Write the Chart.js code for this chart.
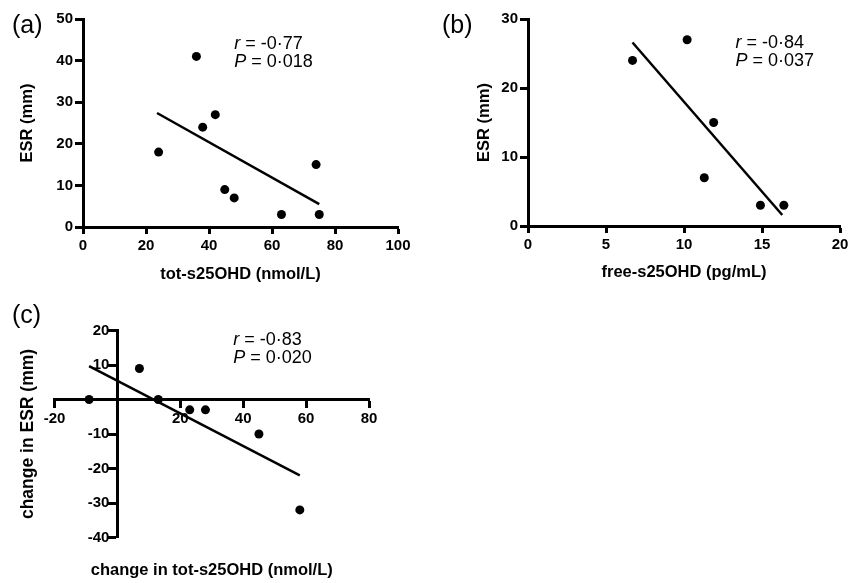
<!DOCTYPE html>
<html>
<head>
<meta charset="utf-8">
<script src="https://cdn.jsdelivr.net/npm/chart.js@4.4.1/dist/chart.umd.min.js"></script>
<style>
  html, body { margin: 0; padding: 0; background: #fff; }
  body { width: 858px; height: 583px; position: relative; overflow: hidden; }
  canvas { position: absolute; }
  #chartA { left: 0; top: 0; }
  #chartB { left: 430px; top: 0; }
  #chartC { left: 0; top: 290px; }
</style>
</head>
<body>
<canvas id="chartA" width="420" height="290"></canvas>
<canvas id="chartB" width="418" height="290"></canvas>
<canvas id="chartC" width="420" height="293"></canvas>
<script>
// (a) ESR against total serum 25OHD
const totA = [24, 36, 38, 42, 45, 48, 63, 74, 75]
const esrA = [18, 41, 24, 27, 9, 7, 3, 15, 3]
const fitAx = [23.5, 75]
const fitAy = [27.4, 5.5]

// (b) ESR against free serum 25OHD
const freeB = [6.7, 10.2, 11.3, 11.9, 14.9, 16.4]
const esrB = [24, 27, 7, 15, 3, 3]
const fitBx = [6.7, 16.3]
const fitBy = [26.6, 1.6]

// (c) change in ESR against change in total 25OHD
const dTotC = [-9, 7, 13, 23, 28, 45, 58]
const dEsrC = [0, 9, 0, -3, -3, -10, -32]
const fitCx = [-9, 58]
const fitCy = [9.7, -22]

const FONT = "'Liberation Sans', Arial, sans-serif"
const tickFont = { family: FONT, size: 15, weight: 'bold' }
const titleFont = { family: FONT, size: 16.5, weight: 'bold' }

Chart.defaults.color = '#000'

const pts = (xs, ys) => xs.map((x, i) => ({ x: x, y: ys[i] }))

// r / P block plus the panel letter
const statsText = {
  id: 'statsText',
  afterDraw(chart, args, opts) {
    const ctx = chart.ctx
    const px = chart.scales.x.getPixelForValue(opts.at[0])
    const py = chart.scales.y.getPixelForValue(opts.at[1])
    const line = (sym, rest, y) => {
      ctx.font = 'italic 18px ' + FONT
      ctx.fillText(sym, px, y)
      const w = ctx.measureText(sym).width
      ctx.font = '18px ' + FONT
      ctx.fillText(rest, px + w, y)
    }
    ctx.save()
    ctx.fillStyle = '#000'
    ctx.textBaseline = 'alphabetic'
    line('r', ' = ' + opts.r, py)
    line('P', ' = ' + opts.p, py + 18)
    ctx.font = '25px ' + FONT
    ctx.fillText(opts.panel, 12, 33)
    ctx.restore()
  }
}

// a y axis pinned at x = 0 puts its labels right on the axis line; push them left of the ticks
const pinnedYLabels = {
  id: 'pinnedYLabels',
  beforeDraw(chart, args, opts) {
    chart.scales.y.getLabelItems().forEach(item => {
      if (!item.shifted) {
        item.options.translation[0] -= opts.gap
        item.shifted = true
      }
    })
  }
}

function axis(min, max, step, title, size, extra) {
  const horizontal = extra.horizontal
  const ticks = { stepSize: step, font: tickFont, color: '#000', padding: horizontal ? 3 : 2 }
  if (extra.callback) ticks.callback = extra.callback
  return Object.assign({
    type: 'linear',
    min: min,
    max: max,
    ticks: ticks,
    grid: { display: true, drawOnChartArea: false, drawTicks: true, tickLength: horizontal ? 7 : 8, tickWidth: 3, tickColor: '#000' },
    border: { display: true, color: '#000', width: 3 },
    title: { display: !!title, text: title, font: titleFont, color: '#000', padding: extra.titlePad || 0 },
    afterFit: s => {
      if (horizontal) s.height = size; else s.width = size
      s.paddingLeft = s.paddingRight = s.paddingTop = s.paddingBottom = 0
    }
  }, extra.opts || {})
}

function datasets(xs, ys, fx, fy) {
  return [
    { data: pts(xs, ys), pointRadius: 4.5, pointHoverRadius: 4.5, backgroundColor: '#000', borderWidth: 0, showLine: false },
    { data: pts(fx, fy), showLine: true, borderColor: '#000', borderWidth: 2.5, pointRadius: 0, fill: false }
  ]
}

function baseOptions(padding, scales, plugins) {
  return {
    responsive: false,
    animation: false,
    layout: { padding: padding },
    plugins: Object.assign({ legend: { display: false }, tooltip: { enabled: false } }, plugins),
    scales: scales
  }
}

new Chart(document.getElementById('chartA'), {
  type: 'scatter',
  data: { datasets: datasets(totA, esrA, fitAx, fitAy) },
  options: baseOptions({ top: 19, right: 22, left: 0, bottom: 0 }, {
    x: axis(0, 100, 20, 'tot-s25OHD (nmol/L)', 63, { horizontal: true, titlePad: { top: 0, bottom: 6 } }),
    y: axis(0, 50, 10, 'ESR (mm)', 83, { titlePad: { top: 18, bottom: 0 } })
  }, { statsText: { at: [48, 42.8], r: '-0\u00B777', p: '0\u00B7018', panel: '(a)' } }),
  plugins: [statsText]
})

new Chart(document.getElementById('chartB'), {
  type: 'scatter',
  data: { datasets: datasets(freeB, esrB, fitBx, fitBy) },
  options: baseOptions({ top: 19, right: 8, left: 0, bottom: 0 }, {
    x: axis(0, 20, 5, 'free-s25OHD (pg/mL)', 64, { horizontal: true, titlePad: { top: 0, bottom: 8 } }),
    y: axis(0, 30, 10, 'ESR (mm)', 98, { titlePad: { top: 45, bottom: 0 } })
  }, { statsText: { at: [13.3, 25.8], r: '-0\u00B784', p: '0\u00B7037', panel: '(b)' } }),
  plugins: [statsText]
})

// axes cross at the origin; the titles sit on two bare outer scales
const hideZero = v => (v === 0 ? '' : v)
new Chart(document.getElementById('chartC'), {
  type: 'scatter',
  data: { datasets: datasets(dTotC, dEsrC, fitCx, fitCy) },
  options: baseOptions({ top: 40.5, right: 51, left: 0, bottom: 0 }, {
    x: axis(-20, 80, 20, '', 0, { horizontal: true, callback: hideZero, opts: { position: { y: 0 } } }),
    y: axis(-40, 20, 10, '', 0, { callback: hideZero, opts: { position: { x: 0 } } }),
    xTitle: {
      type: 'linear', position: 'bottom', min: 0, max: 1,
      ticks: { display: false }, grid: { display: false }, border: { display: false },
      title: { display: true, text: 'change in tot-s25OHD (nmol/L)', font: titleFont, color: '#000', padding: { top: 0, bottom: 3 } },
      afterFit: s => { s.height = 45.5; s.paddingLeft = s.paddingRight = 0 }
    },
    yTitle: {
      type: 'linear', position: 'left', min: 0, max: 1,
      ticks: { display: false }, grid: { display: false }, border: { display: false },
      title: { display: true, text: 'change in ESR (mm)', font: { family: FONT, size: 17.5, weight: 'bold' }, color: '#000', padding: { top: 18, bottom: 0 } },
      afterFit: s => { s.width = 54.5; s.paddingTop = s.paddingBottom = 0 }
    }
  }, {
    statsText: { at: [36.8, 15.8], r: '-0\u00B783', p: '0\u00B7020', panel: '(c)' },
    pinnedYLabels: { gap: 8 }
  }),
  plugins: [statsText, pinnedYLabels]
})
</script>
</body>
</html>
